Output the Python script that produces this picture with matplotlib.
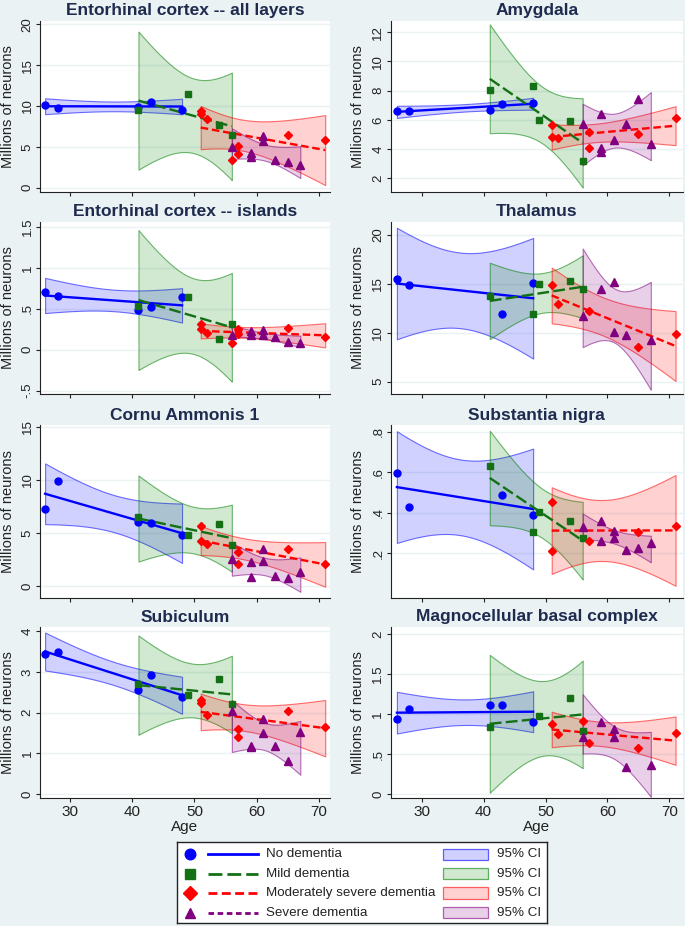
import numpy as np
import matplotlib
matplotlib.use("Agg")
import matplotlib.pyplot as plt
from matplotlib.colors import to_rgba
from matplotlib.patches import Rectangle
from matplotlib.lines import Line2D

plt.rcParams['font.family'] = ['Liberation Sans', 'DejaVu Sans']

nan = np.nan

# ---------------- data ----------------
age_none = [26, 28, 41, 43, 48]
age_mild = [41, 48, 49, 54, 56]
age_mod = [51, 51, 52, 56, 57, 57, 65, 71]
age_sev = [56, 59, 59, 61, 61, 63, 65, 67]
age_sev_amy = [56, 59, 59, 59, 61, 63, 65, 67]

ent_none = [10.08, 9.71, 9.92, 10.49, 9.55]
ent_mild = [9.51, nan, 11.51, 7.63, 6.41]
ent_mod = [9.39, 8.98, 8.41, 3.39, 5.14, 4.16, 6.41, 5.80]
ent_sev = [5.00, 4.20, 3.80, 6.30, 5.75, 3.35, 3.10, 2.78]

amy_none = [6.59, 6.61, 6.66, 7.11, 7.18]
amy_mild = [8.07, 8.32, 6.02, 5.90, 3.16]
amy_mod = [5.65, 4.85, 4.74, nan, 5.19, 4.05, 5.03, 6.11]
amy_sev = [5.70, 6.38, 4.10, 3.78, 4.62, 5.74, 7.43, 4.33]

isl_none = [0.70, 0.66, 0.48, 0.52, 0.65]
isl_mild = [0.53, nan, 0.65, 0.13, 0.32]
isl_mod = [0.31, 0.25, 0.20, 0.08, 0.25, 0.19, 0.27, 0.155]
isl_sev = [0.18, 0.23, 0.18, 0.24, 0.18, 0.16, 0.09, 0.085]

tha_none = [15.47, 14.92, nan, 11.89, 15.06]
tha_mild = [13.79, 11.89, 14.99, 15.33, 14.44]
tha_mod = [14.89, nan, 12.98, nan, 12.23, nan, 8.54, 9.84]
tha_sev = [11.75, 14.44, nan, 15.23, 10.04, 9.77, nan, 9.26]

ca1_none = [7.26, 9.91, 6.07, 5.94, 4.78]
ca1_mild = [6.48, nan, 4.78, 5.88, 3.84]
ca1_mod = [5.66, 4.25, 3.93, nan, 3.21, 2.05, 3.53, 2.05]
ca1_sev = [2.58, 2.28, 0.84, 3.50, 2.33, 0.92, 0.79, 1.32]

sn_none = [0.595, 0.430, nan, 0.489, 0.391]
sn_mild = [0.631, 0.304, 0.405, 0.358, 0.274]
sn_mod = [0.453, 0.211, nan, nan, 0.259, nan, 0.304, 0.335]
sn_sev = [0.331, 0.359, 0.261, 0.310, 0.274, 0.216, 0.228, 0.249]

sub_none = [3.43, 3.49, 2.55, 2.91, 2.38]
sub_mild = [2.69, nan, 2.42, 2.82, 2.22]
sub_mod = [2.31, 2.24, 1.94, nan, 1.60, 1.41, 2.05, 1.64]
sub_sev = [2.03, 1.19, 1.17, 1.85, 1.51, 1.19, 0.82, 1.53]

mbc_none = [0.936, 1.06, 1.11, 1.11, 0.906]
mbc_mild = [0.836, nan, 0.973, 1.20, 0.79]
mbc_mod = [0.877, nan, 0.753, 0.919, 0.636, nan, 0.582, 0.765]
mbc_sev = [0.715, 0.898, nan, 0.815, 0.715, 0.345, nan, 0.362]

titles = ["Entorhinal cortex -- all layers", "Amygdala",
          "Entorhinal cortex -- islands", "Thalamus",
          "Cornu Ammonis 1", "Substantia nigra",
          "Subiculum", "Magnocellular basal complex"]

yticks_list = [[0, 5, 10, 15, 20], [2, 4, 6, 8, 10, 12],
               [-0.5, 0, 0.5, 1, 1.5], [5, 10, 15, 20],
               [0, 5, 10, 15], [0.2, 0.4, 0.6, 0.8],
               [0, 1, 2, 3, 4], [0, 0.5, 1, 1.5, 2]]
ylabels_list = [["0", "5", "10", "15", "20"], ["2", "4", "6", "8", "10", "12"],
                ["-.5", "0", ".5", "1", "1.5"], ["5", "10", "15", "20"],
                ["0", "5", "10", "15"], [".2", ".4", ".6", ".8"],
                ["0", "1", "2", "3", "4"], ["0", ".5", "1", "1.5", "2"]]
ylims = [(-0.53, 20.4), (1.06, 12.77), (-0.54, 1.561), (3.74, 21.33),
         (-1.13, 15.16), (-0.0205, 0.833), (-0.091, 4.098), (-0.046, 2.087)]
xticks = [30, 40, 50, 60, 70]

panel_data = [
    (ent_none, ent_mild, ent_mod, ent_sev, age_sev),
    (amy_none, amy_mild, amy_mod, amy_sev, age_sev_amy),
    (isl_none, isl_mild, isl_mod, isl_sev, age_sev),
    (tha_none, tha_mild, tha_mod, tha_sev, age_sev),
    (ca1_none, ca1_mild, ca1_mod, ca1_sev, age_sev),
    (sn_none, sn_mild, sn_mod, sn_sev, age_sev),
    (sub_none, sub_mild, sub_mod, sub_sev, age_sev),
    (mbc_none, mbc_mild, mbc_mod, mbc_sev, age_sev),
]

group_labels = ["No dementia", "Mild dementia", "Moderately severe dementia", "Severe dementia"]

# ---------------- styles ----------------
BG = '#EAF2F3'
TITLE_C = '#1E2B4F'
C_BLUE = '#0000FF'
C_GREEN = '#147014'
C_RED = '#FF0000'
C_PURPLE = '#800080'
BAND_BASE = ['#0000FF', '#008000', '#FF0000', '#800080']
colors = [C_BLUE, C_GREEN, C_RED, C_PURPLE]
markers = ['o', 's', 'D', '^']
msizes = [5.0, 4.8, 4.3, 5.2]
lstyles = ['-', (0, (5, 1.8)), (0, (3.2, 1.6)), (0, (2.0, 1.3))]
T975 = {1: 12.706, 2: 4.303, 3: 3.182, 4: 2.776, 5: 2.571, 6: 2.447, 7: 2.365}

W, H = 685, 926
fig = plt.figure(figsize=(W / 100, H / 100), dpi=100, facecolor=BG)


def px_axes(l, t, r, b):
    return fig.add_axes([l / W, 1 - b / H, (r - l) / W, (b - t) / H])


cols = [(40, 330, (25.18, 71.77)), (390.7, 683, (25.0, 72.2))]
rows = [(21, 192), (222, 394), (425, 598), (627, 798)]


def lfitci(ax, x, y, k):
    x = np.asarray(x, float)
    y = np.asarray(y, float)
    m = ~np.isnan(y)
    x, y = x[m], y[m]
    n = len(x)
    b, a = np.polyfit(x, y, 1)
    xm = x.mean()
    sxx = ((x - xm) ** 2).sum()
    s = np.sqrt(((y - (a + b * x)) ** 2).sum() / (n - 2))
    xg = np.linspace(x.min(), x.max(), 100)
    yh = a + b * xg
    se = s * np.sqrt(1.0 / n + (xg - xm) ** 2 / sxx)
    t = T975[n - 2]
    ax.fill_between(xg, yh - t * se, yh + t * se,
                    facecolor=to_rgba(BAND_BASE[k], 0.18),
                    edgecolor=to_rgba(BAND_BASE[k], 0.55), lw=0.8, zorder=1)
    return xg, yh


for i, (title, yt, yl, ylim, pdata) in enumerate(zip(titles, yticks_list, ylabels_list, ylims, panel_data)):
    r, c = divmod(i, 2)
    l, rr, xlim = cols[c]
    t, b = rows[r]
    ax = px_axes(l, t, rr, b)
    ax.set_facecolor('white')
    ax.set_xlim(*xlim)
    ax.set_ylim(*ylim)
    for s in ['top', 'right']:
        ax.spines[s].set_visible(False)
    for s in ['left', 'bottom']:
        ax.spines[s].set_color('#222222')
        ax.spines[s].set_linewidth(0.8)
    ax.set_yticks(yt)
    ax.set_yticklabels(yl)
    ax.set_xticks(xticks)
    ax.grid(axis='y', color=BG, lw=1.0, zorder=0)
    ax.set_axisbelow(True)
    ax.tick_params(axis='y', direction='out', length=3, width=0.8, pad=1.5,
                   labelsize=9.5, labelrotation=90, colors='#222222')
    for lab in ax.get_yticklabels():
        lab.set_va('center')
    if r == 3:
        ax.tick_params(axis='x', direction='out', length=3, width=0.8, pad=2,
                       labelsize=11, colors='#222222')
    else:
        ax.tick_params(axis='x', direction='out', length=3, width=0.8,
                       labelbottom=False, colors='#222222')

    none_v, mild_v, mod_v, sev_v, sev_age = pdata
    groups = [(age_none, none_v), (age_mild, mild_v), (age_mod, mod_v), (sev_age, sev_v)]
    fits = []
    for k, (xa, ya) in enumerate(groups):
        fits.append(lfitci(ax, xa, ya, k))
    # the severe-dementia fit line is not visible in the panels of the original
    for k, (xg, yh) in enumerate(fits[:3]):
        ax.plot(xg, yh, color=colors[k], lw=1.7, ls=lstyles[k], zorder=3)
    for k, (xa, ya) in enumerate(groups):
        ax.plot(xa, ya, ls='none', marker=markers[k], ms=msizes[k],
                color=colors[k], mec=colors[k], zorder=4)

    ax.text(0.5, 1 + 5.5 / (b - t), title, transform=ax.transAxes,
            ha='center', va='baseline', fontsize=12.5, fontweight='bold', color=TITLE_C)
    ylab_x = 8 if c == 0 else 358
    fig.text(ylab_x / W, 1 - ((t + b) / 2) / H, "Millions of neurons", rotation=90,
             ha='center', va='center', fontsize=10.5, color='#222222')
    if r == 3:
        fig.text(((l + rr) / 2) / W, 1 - 827 / H, "Age", ha='center', va='center',
                 fontsize=11, color='#222222')

# ---------------- legend ----------------
lax = px_axes(177, 842, 547, 923)
lax.set_facecolor('white')
lax.set_xlim(177, 547)
lax.set_ylim(923, 842)
lax.set_xticks([])
lax.set_yticks([])
for s in lax.spines.values():
    s.set_color('#222222')
    s.set_linewidth(1.0)
row_y = [854.3, 873.7, 893.0, 912.7]
leg_ms = [7.6, 7.0, 6.8, 7.6]
for k in range(4):
    yy = row_y[k]
    lax.add_line(Line2D([190], [yy], ls='none', marker=markers[k], ms=leg_ms[k],
                        color=colors[k], mec=colors[k]))
    lax.add_line(Line2D([207.7, 257.7], [yy, yy], color=colors[k], lw=2.0, ls=lstyles[k]))
    lax.text(266, yy, group_labels[k], ha='left', va='center', fontsize=9.6, color='#222222')
    lax.add_patch(Rectangle((442.7, yy - 5.6), 45.6, 11.2,
                            facecolor=to_rgba(BAND_BASE[k], 0.18),
                            edgecolor=to_rgba(BAND_BASE[k], 0.6), lw=0.9))
    lax.text(496.7, yy, "95% CI", ha='left', va='center', fontsize=9.6, color='#222222')

fig.savefig("out.png", dpi=100, facecolor=BG)
